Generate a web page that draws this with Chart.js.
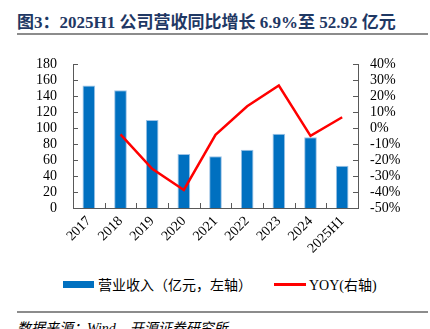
<!DOCTYPE html>
<html>
<head>
<meta charset="utf-8">
<script src="https://cdn.jsdelivr.net/npm/chart.js@4/dist/chart.umd.min.js"></script>
<style>
  html, body { margin: 0; padding: 0; background: #fff; }
  body { width: 430px; height: 329px; position: relative; overflow: hidden;
         font-family: 'Liberation Serif', 'Noto Sans CJK SC', serif; }
  #title { position: absolute; left: 17px; top: 8px; font-size: 17px; font-weight: bold;
           color: #1f3864; white-space: nowrap; }
  .rule { position: absolute; left: 17px; width: 411px; height: 2px; background: #8c8c8c; }
  #chartBox { position: absolute; left: 0; top: 40px; width: 430px; height: 225px; }
  #legend { position: absolute; top: 276px; left: 0; width: 430px; height: 18px; font-size: 14px; color: #000; }
  #legend span { position: absolute; white-space: nowrap; }
  #source { position: absolute; left: 17px; top: 317px; font-size: 14px; font-style: italic; color: #000; white-space: nowrap; }
</style>
</head>
<body>
<div id="title">图3：2025H1 公司营收同比增长 6.9%至 52.92 亿元</div>
<div class="rule" style="top:33px"></div>
<div id="chartBox"><canvas id="chartCanvas" width="430" height="225"></canvas></div>
<div id="legend">
  <span style="left:63px;top:5px;width:31px;height:7px;background:#0070c0"></span>
  <span style="left:98px;top:-2px">营业收入（亿元，左轴）</span>
  <span style="left:274px;top:7px;width:32px;height:2.5px;background:#ff0000"></span>
  <span style="left:309px;top:-2px">YOY(右轴)</span>
</div>
<div class="rule" style="top:311px"></div>
<div id="source">数据来源：Wind、开源证券研究所</div>
<script>
// 营收（亿元）与同比增速，数值读自原图
const years = ['2017', '2018', '2019', '2020', '2021', '2022', '2023', '2024', '2025H1'];
const revenue = [153.6, 147.6, 110.2, 67.6, 64.8, 73.0, 93.0, 88.8, 52.92];
const yoy = [null, -3.9, -25.4, -38.7, -4.1, 13.8, 26.8, -4.8, 6.9];

const axisColor = '#595959';
const fontFamily = 'Liberation Serif, Noto Sans CJK SC, serif';
const tickFont = { family: fontFamily, size: 14 };

// 刻度线朝内画，Chart.js 自带的只能朝外
const innerTicks = {
  id: 'innerTicks',
  afterDatasetsDraw(chart) {
    const { ctx, chartArea: a, scales } = chart;
    const len = 5;
    ctx.save();
    ctx.strokeStyle = axisColor;
    ctx.lineWidth = 1;
    ctx.beginPath();
    scales.y.ticks.forEach(t => {
      const y = Math.round(scales.y.getPixelForValue(t.value)) + 0.5;
      ctx.moveTo(a.left, y);
      ctx.lineTo(a.left + len, y);
    });
    scales.y1.ticks.forEach(t => {
      const y = Math.round(scales.y1.getPixelForValue(t.value)) + 0.5;
      ctx.moveTo(a.right, y);
      ctx.lineTo(a.right - len, y);
    });
    for (let i = 1; i < years.length; i++) {
      const x = Math.round((scales.x.getPixelForValue(i - 1) + scales.x.getPixelForValue(i)) / 2) + 0.5;
      ctx.moveTo(x, a.bottom);
      ctx.lineTo(x, a.bottom - len);
    }
    ctx.stroke();
    ctx.restore();
  }
};

Chart.defaults.font.family = fontFamily;
Chart.defaults.color = '#000';

new Chart(document.getElementById('chartCanvas').getContext('2d'), {
  type: 'bar',
  data: {
    labels: years,
    datasets: [
      {
        type: 'line',
        label: 'YOY(右轴)',
        data: yoy,
        yAxisID: 'y1',
        borderColor: '#ff0000',
        borderWidth: 2.5,
        pointRadius: 0,
        tension: 0,
        order: 0
      },
      {
        label: '营业收入（亿元，左轴）',
        data: revenue,
        yAxisID: 'y',
        backgroundColor: '#0070c0',
        borderColor: '#9dc3e6',
        borderWidth: { left: 1, right: 1, top: 1, bottom: 0 },
        categoryPercentage: 1,
        barPercentage: 0.4,
        order: 1
      }
    ]
  },
  plugins: [innerTicks],
  options: {
    responsive: false,
    animation: false,
    layout: { padding: { top: 18, left: 0, right: 0, bottom: 0 } },
    plugins: { legend: { display: false }, tooltip: { enabled: false } },
    scales: {
      x: {
        offset: true,
        grid: { display: false, drawTicks: false, tickLength: 0 },
        border: { display: true, color: axisColor, width: 1 },
        ticks: { font: tickFont, autoSkip: false, minRotation: 45, maxRotation: 45, padding: 5 },
        afterFit: s => { s.height = 57; }
      },
      y: {
        position: 'left',
        min: 0,
        max: 180,
        grid: { display: false, drawTicks: false, tickLength: 0 },
        border: { display: true, color: axisColor, width: 1 },
        ticks: { stepSize: 20, autoSkip: false, font: tickFont, padding: 16 },
        afterFit: s => { s.width = 73; }
      },
      y1: {
        position: 'right',
        min: -50,
        max: 40,
        grid: { display: false, drawTicks: false, tickLength: 0 },
        border: { display: true, color: axisColor, width: 1 },
        ticks: { stepSize: 10, autoSkip: false, font: tickFont, padding: 12, callback: v => v + '%' },
        afterFit: s => { s.width = 72; }
      }
    }
  }
});
</script>
</body>
</html>
